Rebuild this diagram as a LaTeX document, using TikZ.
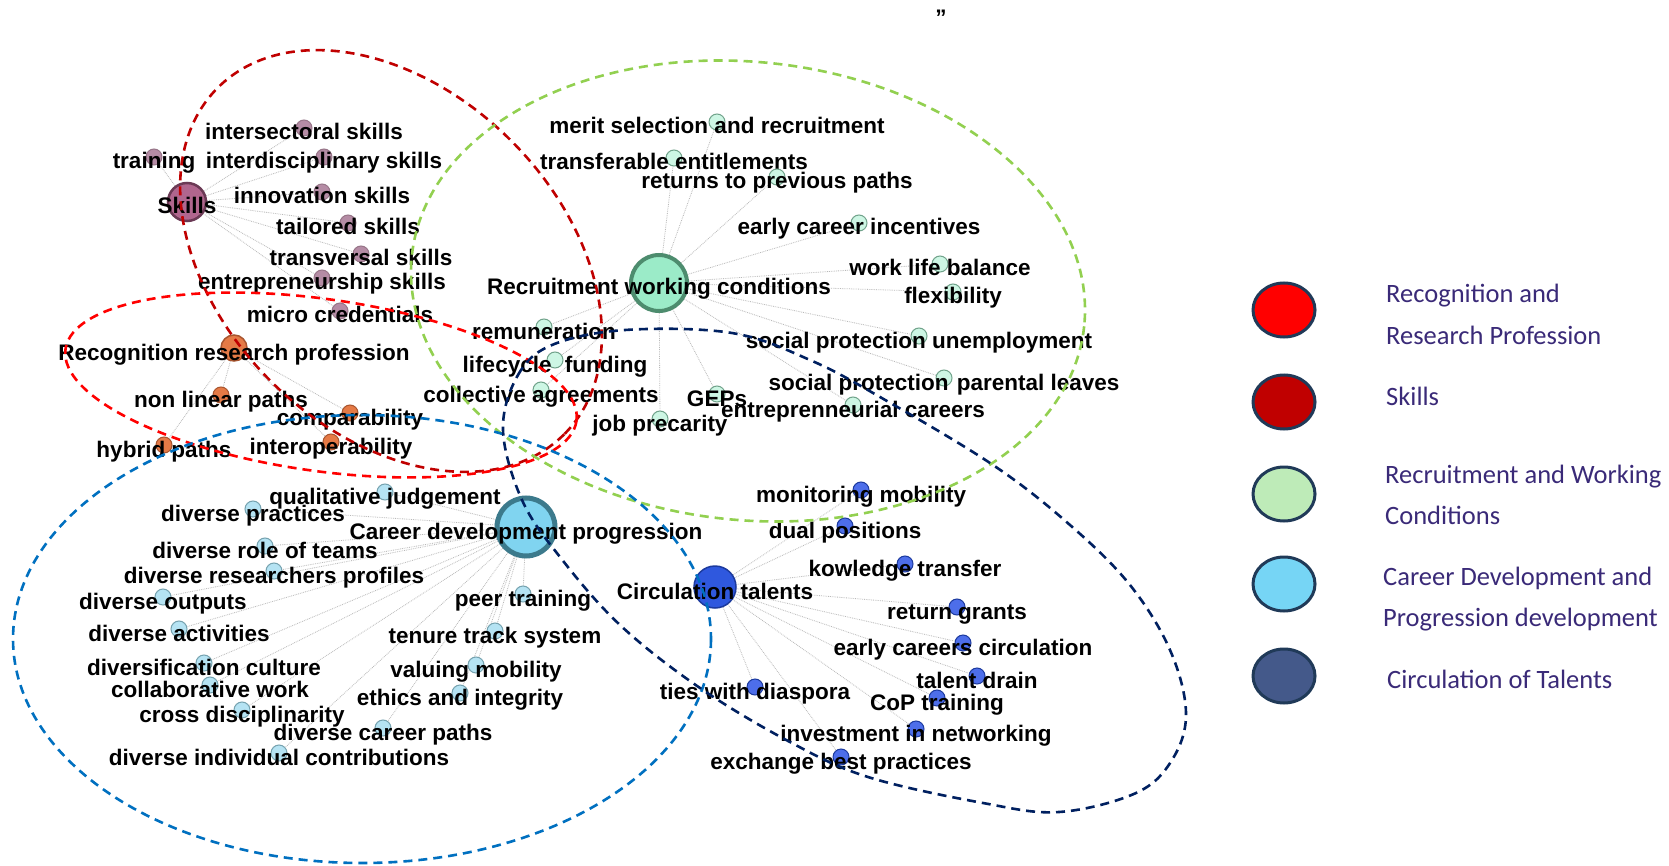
\documentclass[tikz,border=0pt]{standalone}
\usepackage{fontspec}
\newfontfamily\graphfont{Liberation Sans}
\newfontfamily\legendfont{Carlito}
\usepackage{tikz}
\usetikzlibrary{shapes.geometric,backgrounds}
\definecolor{Skillred}{HTML}{C00000}
\definecolor{Recogred}{HTML}{FF0000}
\definecolor{Recruitgreen}{HTML}{92D050}
\definecolor{Careerblue}{HTML}{0070C0}
\definecolor{Circnavy}{HTML}{002060}
\definecolor{Legendtext}{HTML}{3A2A78}
\definecolor{Legendedge}{HTML}{203A58}
\definecolor{Skillfill}{HTML}{B0668E}
\definecolor{Skillleaf}{HTML}{B58CA5}
\definecolor{Skilledge}{HTML}{6B3A55}
\definecolor{Recogfill}{HTML}{E57A46}
\definecolor{Recogedge}{HTML}{A8552F}
\definecolor{Recruitfill}{HTML}{9BEBC8}
\definecolor{Recruitleaf}{HTML}{CDF6E4}
\definecolor{Recruitedge}{HTML}{4D8C6E}
\definecolor{Careerfill}{HTML}{80D4F0}
\definecolor{Careerleaf}{HTML}{B5E3F3}
\definecolor{Careeredge}{HTML}{3C7A8C}
\definecolor{Circfill}{HTML}{2F58DE}
\definecolor{Circleaf}{HTML}{4D6EEA}
\definecolor{Circedge}{HTML}{1C3A9E}
\tikzstyle{ring} = [
    line width=2.6pt,
    dash pattern=on 9pt off 6pt
]
\tikzstyle{link} = [gray!55, densely dotted, line width=0.8pt]
\tikzstyle{lbl} = [font=\graphfont\bfseries\fontsize{22.5}{24}\selectfont, inner sep=0pt, text height=16pt, text depth=0pt, yshift=-4pt]
\tikzstyle{leaf} = [circle, minimum size=16pt, inner sep=0pt, line width=1pt]
\tikzstyle{hub} = [circle, inner sep=0pt]
\tikzstyle{lgell} = [ellipse, minimum width=62pt, minimum height=54pt, inner sep=0pt, line width=3pt, draw=Legendedge]
\tikzstyle{lgtext} = [font=\legendfont\fontsize{26.5}{30}\selectfont, text=Legendtext, anchor=base west, inner sep=0pt]

\begin{document}
\begin{tikzpicture}[x=1pt, y=-1pt]
    \useasboundingbox (0,0) rectangle (1669,866);
    % Skills
    \node[hub, minimum size=38pt, line width=2.5pt, fill=Skillfill, draw=Skilledge, label={[lbl]center:Skills}] (skills) at (187,202) {};
    \node[leaf, fill=Skillleaf, draw=Skilledge!70, label={[lbl]center:intersectoral skills}] (sk1) at (304,128) {};
    \node[leaf, fill=Skillleaf, draw=Skilledge!70, label={[lbl]center:training}] (sk2) at (154,157) {};
    \node[leaf, fill=Skillleaf, draw=Skilledge!70, label={[lbl]center:interdisciplinary skills}] (sk3) at (324,157) {};
    \node[leaf, fill=Skillleaf, draw=Skilledge!70, label={[lbl]center:innovation skills}] (sk4) at (322,192) {};
    \node[leaf, fill=Skillleaf, draw=Skilledge!70, label={[lbl]center:tailored skills}] (sk5) at (348,223) {};
    \node[leaf, fill=Skillleaf, draw=Skilledge!70, label={[lbl]center:transversal skills}] (sk6) at (361,254) {};
    \node[leaf, fill=Skillleaf, draw=Skilledge!70, label={[lbl]center:entrepreneurship skills}] (sk7) at (322,278) {};
    \node[leaf, fill=Skillleaf, draw=Skilledge!70, label={[lbl]center:micro credentials}] (sk8) at (340,311) {};
    % Recognition research profession
    \node[hub, minimum size=26pt, line width=1.5pt, fill=Recogfill, draw=Recogedge, label={[lbl]center:Recognition research profession}] (rec) at (234,348) {};
    \node[leaf, fill=Recogfill, draw=Recogedge, label={[lbl]center:non linear paths}] (rc1) at (221,395) {};
    \node[leaf, fill=Recogfill, draw=Recogedge, label={[lbl]center:comparability}] (rc2) at (350,413) {};
    \node[leaf, fill=Recogfill, draw=Recogedge, label={[lbl]center:hybrid paths}] (rc3) at (164,445) {};
    \node[leaf, fill=Recogfill, draw=Recogedge, label={[lbl]center:interoperability}] (rc4) at (331,442) {};
    % Recruitment working conditions
    \node[hub, minimum size=56pt, line width=4pt, fill=Recruitfill, draw=Recruitedge, label={[lbl]center:Recruitment working conditions}] (rw) at (659,283) {};
    \node[leaf, fill=Recruitleaf, draw=Recruitedge!80, label={[lbl]center:merit selection and recruitment}] (rw1) at (717,122) {};
    \node[leaf, fill=Recruitleaf, draw=Recruitedge!80, label={[lbl]center:transferable entitlements}] (rw2) at (674,158) {};
    \node[leaf, fill=Recruitleaf, draw=Recruitedge!80, label={[lbl]center:returns to previous paths}] (rw3) at (777,177) {};
    \node[leaf, fill=Recruitleaf, draw=Recruitedge!80, label={[lbl]center:early career incentives}] (rw4) at (859,223) {};
    \node[leaf, fill=Recruitleaf, draw=Recruitedge!80, label={[lbl]center:work life balance}] (rw5) at (940,264) {};
    \node[leaf, fill=Recruitleaf, draw=Recruitedge!80, label={[lbl]center:flexibility}] (rw6) at (953,292) {};
    \node[leaf, fill=Recruitleaf, draw=Recruitedge!80, label={[lbl]center:remuneration}] (rw7) at (544,327) {};
    \node[leaf, fill=Recruitleaf, draw=Recruitedge!80, label={[lbl]center:lifecycle\hspace{7pt} funding}] (rw8) at (555,360) {};
    \node[leaf, fill=Recruitleaf, draw=Recruitedge!80, label={[lbl]center:collective agreements}] (rw9) at (541,390) {};
    \node[leaf, fill=Recruitleaf, draw=Recruitedge!80, label={[lbl]center:GEPs}] (rw10) at (717,394) {};
    \node[leaf, fill=Recruitleaf, draw=Recruitedge!80, label={[lbl]center:job precarity}] (rw11) at (660,419) {};
    \node[leaf, fill=Recruitleaf, draw=Recruitedge!80, label={[lbl]center:social protection unemployment}] (rw12) at (919,336) {};
    \node[leaf, fill=Recruitleaf, draw=Recruitedge!80, label={[lbl]center:social protection\hspace{2pt} parental leaves}] (rw13) at (944,378) {};
    \node[leaf, fill=Recruitleaf, draw=Recruitedge!80, label={[lbl]center:entreprenneurial careers}] (rw14) at (853,405) {};
    % Career development progression
    \node[hub, minimum size=58pt, line width=5pt, fill=Careerfill, draw=Careeredge, label={[lbl]center:Career development progression}] (cd) at (526,527) {};
    \node[leaf, fill=Careerleaf, draw=Careeredge!70, label={[lbl]center:qualitative judgement}] (cd1) at (385,492) {};
    \node[leaf, fill=Careerleaf, draw=Careeredge!70, label={[lbl]center:diverse practices}] (cd2) at (253,509) {};
    \node[leaf, fill=Careerleaf, draw=Careeredge!70, label={[lbl]center:diverse role of teams}] (cd3) at (265,546) {};
    \node[leaf, fill=Careerleaf, draw=Careeredge!70, label={[lbl]center:diverse researchers profiles}] (cd4) at (274,571) {};
    \node[leaf, fill=Careerleaf, draw=Careeredge!70, label={[lbl]center:diverse outputs}] (cd5) at (163,597) {};
    \node[leaf, fill=Careerleaf, draw=Careeredge!70, label={[lbl]center:diverse activities}] (cd6) at (179,629) {};
    \node[leaf, fill=Careerleaf, draw=Careeredge!70, label={[lbl]center:diversification culture}] (cd7) at (204,663) {};
    \node[leaf, fill=Careerleaf, draw=Careeredge!70, label={[lbl]center:collaborative work}] (cd8) at (210,685) {};
    \node[leaf, fill=Careerleaf, draw=Careeredge!70, label={[lbl]center:cross disciplinarity}] (cd9) at (242,710) {};
    \node[leaf, fill=Careerleaf, draw=Careeredge!70, label={[lbl]center:diverse career paths}] (cd10) at (383,728) {};
    \node[leaf, fill=Careerleaf, draw=Careeredge!70, label={[lbl]center:diverse individual contributions}] (cd11) at (279,753) {};
    \node[leaf, fill=Careerleaf, draw=Careeredge!70, label={[lbl]center:peer training}] (cd12) at (523,594) {};
    \node[leaf, fill=Careerleaf, draw=Careeredge!70, label={[lbl]center:tenure track system}] (cd13) at (495,631) {};
    \node[leaf, fill=Careerleaf, draw=Careeredge!70, label={[lbl]center:valuing mobility}] (cd14) at (476,665) {};
    \node[leaf, fill=Careerleaf, draw=Careeredge!70, label={[lbl]center:ethics and integrity}] (cd15) at (460,693) {};
    % Circulation talents
    \node[hub, minimum size=42pt, line width=1.5pt, fill=Circfill, draw=Circedge, label={[lbl]center:Circulation talents}] (ct) at (715,587) {};
    \node[leaf, fill=Circleaf, draw=Circedge, label={[lbl]center:monitoring mobility}] (ct1) at (861,490) {};
    \node[leaf, fill=Circleaf, draw=Circedge, label={[lbl]center:dual positions}] (ct2) at (845,526) {};
    \node[leaf, fill=Circleaf, draw=Circedge, label={[lbl]center:kowledge transfer}] (ct3) at (905,564) {};
    \node[leaf, fill=Circleaf, draw=Circedge, label={[lbl]center:return grants}] (ct4) at (957,607) {};
    \node[leaf, fill=Circleaf, draw=Circedge, label={[lbl]center:early careers circulation}] (ct5) at (963,643) {};
    \node[leaf, fill=Circleaf, draw=Circedge, label={[lbl]center:talent drain}] (ct6) at (977,676) {};
    \node[leaf, fill=Circleaf, draw=Circedge, label={[lbl]center:CoP training}] (ct7) at (937,698) {};
    \node[leaf, fill=Circleaf, draw=Circedge, label={[lbl]center:ties with diaspora}] (ct8) at (755,687) {};
    \node[leaf, fill=Circleaf, draw=Circedge, label={[lbl]center:investment in networking}] (ct9) at (916,729) {};
    \node[leaf, fill=Circleaf, draw=Circedge, label={[lbl]center:exchange best practices}] (ct10) at (841,757) {};
    % Links
    \begin{pgfonlayer}{background}
        \fill[white] (0,0) rectangle (1669,866);
        \foreach \l in {sk1,sk2,sk3,sk4,sk5,sk6,sk7,sk8}
            \draw[link] (skills) -- (\l);
        \foreach \l in {rc1,rc2,rc3,rc4}
            \draw[link] (rec) -- (\l);
        \foreach \l in {rw1,rw2,rw3,rw4,rw5,rw6,rw7,rw8,rw9,rw10,rw11,rw12,rw13,rw14}
            \draw[link] (rw) -- (\l);
        \foreach \l in {cd1,cd2,cd3,cd4,cd5,cd6,cd7,cd8,cd9,cd10,cd11,cd12,cd13,cd14,cd15}
            \draw[link] (cd) -- (\l);
        \foreach \l in {ct1,ct2,ct3,ct4,ct5,ct6,ct7,ct8,ct9,ct10}
            \draw[link] (ct) -- (\l);
    \end{pgfonlayer}
    % Clusters
    \draw[ring, Skillred, rotate around={-45:(391,261)}] (391,261) ellipse (245 and 170);
    \draw[ring, Recogred, rotate around={-8:(321,385)}] (321,385) ellipse (258 and 86);
    \draw[ring, Recruitgreen, rotate around={-6:(748,291)}] (748,291) ellipse (338 and 229);
    \draw[ring, Careerblue] (362,639) ellipse (349 and 224);
    \draw[ring, Circnavy] plot[smooth cycle, tension=0.6] coordinates {(503,430) (518,375) (552,345) (625,330) (732,333) (810,360) (880,397) (993,465) (1070,525) (1130,585) (1170,650) (1186,713) (1172,760) (1136,793) (1059,812) (983,803) (868,777) (790,742) (700,688) (620,625) (560,557) (522,500)};
    \node[font=\graphfont\bfseries\fontsize{22.5}{24}\selectfont, anchor=base, inner sep=0pt] (qmark) at (941,26) {”};
    % Legend
    \node[lgell, fill=Recogred] (lge1) at (1284,310) {};
    \node[lgell, fill=Skillred] (lge2) at (1284,402) {};
    \node[lgell, fill={rgb,255:red,190;green,235;blue,184}] (lge3) at (1284,494) {};
    \node[lgell, fill={rgb,255:red,118;green,213;blue,245}] (lge4) at (1284,584) {};
    \node[lgell, fill={rgb,255:red,68;green,89;blue,138}] (lge5) at (1284,676) {};
    \node[lgtext] (lg1a) at (1386,303) {Recognition and};
    \node[lgtext] (lg1b) at (1386,344) {Research Profession};
    \node[lgtext] (lg2) at (1386,405) {Skills};
    \node[lgtext] (lg3a) at (1385,483) {Recruitment and Working};
    \node[lgtext] (lg3b) at (1385,524) {Conditions};
    \node[lgtext] (lg4a) at (1383,585) {Career Development and};
    \node[lgtext] (lg4b) at (1383,626) {Progression development};
    \node[lgtext] (lg5) at (1387,688) {Circulation of Talents};
\end{tikzpicture}
\end{document}
